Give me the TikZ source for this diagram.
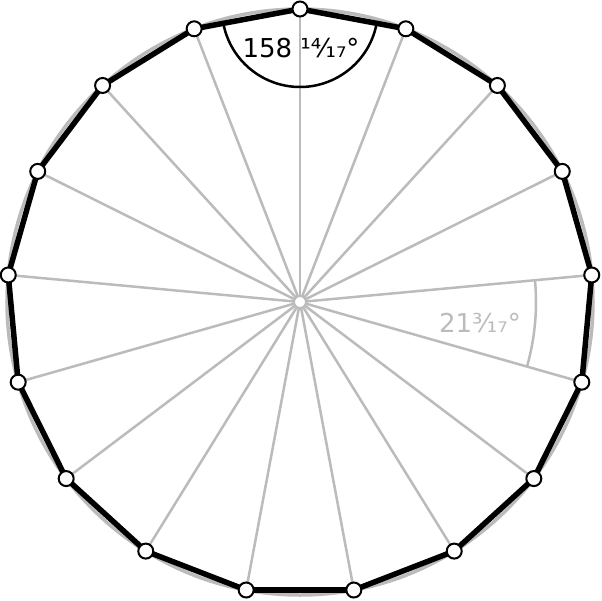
\documentclass[tikz,border=0pt]{standalone}
\usepackage{fontspec}
\setmainfont{DejaVu Sans}
\usetikzlibrary{backgrounds}
\definecolor{spokegray}{HTML}{BBBBBB}
\tikzset{vtx/.style={draw=black,fill=white,circle,line width=2pt,minimum size=15pt,inner
sep=0pt},mid/.style={draw=spokegray,fill=white,circle,line width=2pt,minimum
size=12pt,inner sep=0pt}}

\begin{document}
\begin{tikzpicture}[x=1pt,y=1pt,spoke/.style={spokegray,line width=2.5pt},rim/.style={spokegray,line width=3.5pt},side/.style={black,line width=5.5pt,line cap=round},lbl/.style={font=\fontsize{26}{30}\selectfont,inner sep=0pt}]
			\useasboundingbox (-300,-298) rectangle (302,302);
			\node[mid] (c) at (0,0) {};
			\foreach \k in {0,...,16}
				\node[vtx] (v\k) at ({90-\k*360/17}:293) {};

			\begin{scope}[on background layer]
				\draw[rim] (c.center) circle (293);
				\foreach \k in {0,...,16}
					\draw[spoke] (c.center) -- (v\k.center);
				\foreach \k [evaluate=\k as \n using {int(mod(\k+1,17))}] in {0,...,16}
					\draw[side] (v\k.center) -- (v\n.center);
			\end{scope}

			% angles
			\draw[black,line width=2.5pt] ([shift={(-10.588:78)}]v0.center) arc[start angle=-10.588,end angle=-169.412,radius=78];
			\draw[spokegray,line width=2.5pt] ([shift={(5.294:236)}]c.center) arc[start angle=5.294,end angle=-15.882,radius=236];
			\node[lbl] (inner) at (1,254) {158 ¹⁴⁄₁₇°};
			\node[lbl,text=spokegray] (central) at (180,-21) {21³⁄₁₇°};
		\end{tikzpicture}
\end{document}
